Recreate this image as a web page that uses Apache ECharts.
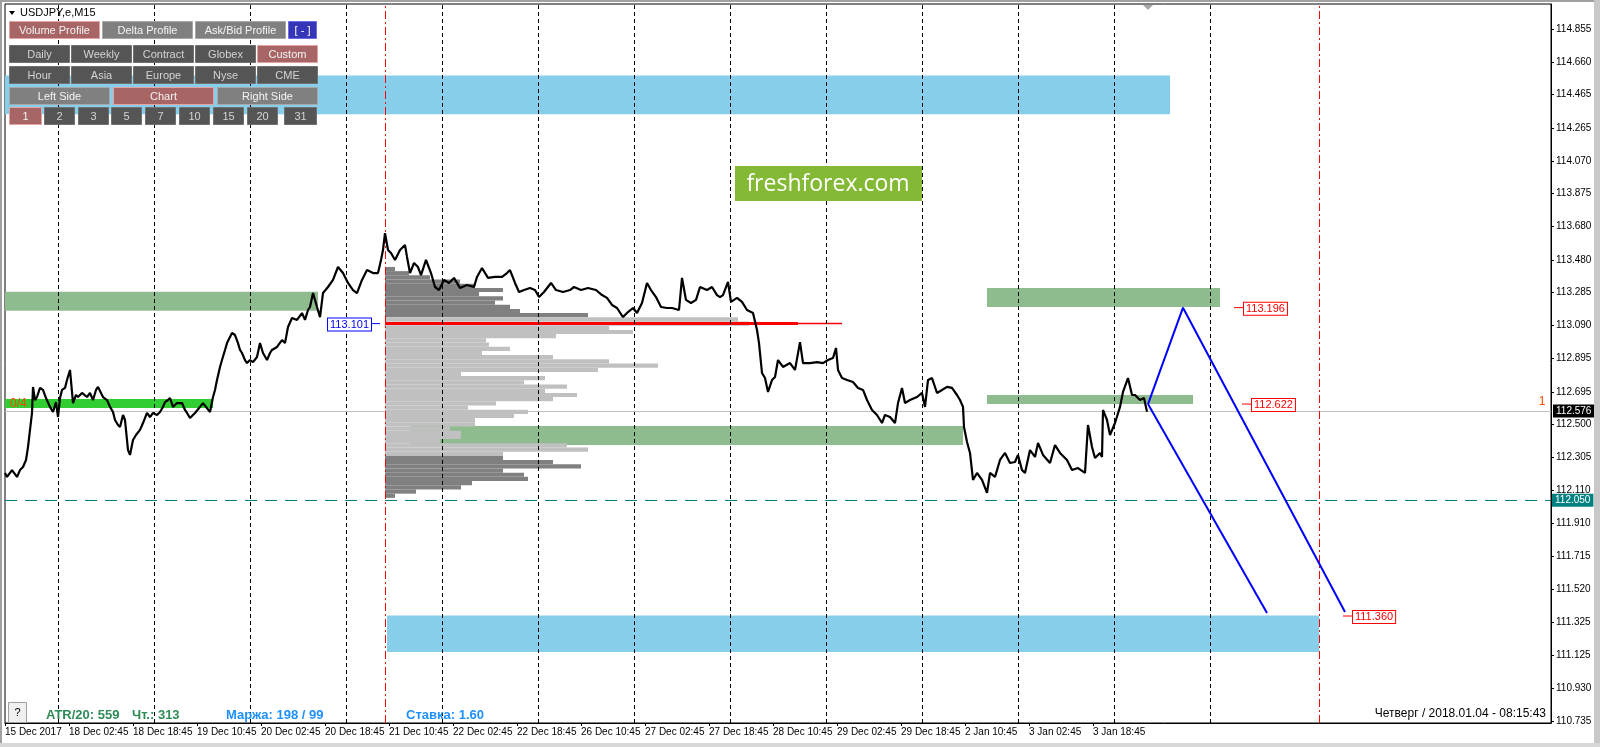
<!DOCTYPE html>
<html><head><meta charset="utf-8">
<script src="https://cdn.jsdelivr.net/npm/echarts@6/dist/echarts.min.js"></script>
<style>html,body{margin:0;padding:0;background:#fff}#c{width:1600px;height:747px}</style>
</head><body><div id="c"></div>
<script>
// ---------- DATA ----------
const xTickBars = [0,64,128,192,256,320,384,448,512,576,640,704,768,832,896,960,1024,1088];
const xTickLabels = ['15 Dec 2017','18 Dec 02:45','18 Dec 18:45','19 Dec 10:45','20 Dec 02:45','20 Dec 18:45','21 Dec 10:45','22 Dec 02:45','22 Dec 18:45','26 Dec 10:45','27 Dec 02:45','27 Dec 18:45','28 Dec 10:45','29 Dec 02:45','29 Dec 18:45','2 Jan 10:45','3 Jan 02:45','3 Jan 18:45'];
const yTickValues = [114.855,114.660,114.465,114.265,114.070,113.875,113.680,113.480,113.285,113.090,112.895,112.695,112.500,112.305,112.110,111.910,111.715,111.520,111.325,111.125,110.930,110.735];
const separatorBars = [53,149,245,341,437,533,629,725,821,917,1013,1109,1205];
const rangeBars = [380,1314];

const priceData = [[0,112.212],[2,112.188],[7,112.229],[12,112.188],[15,112.229],[18,112.247],[21,112.289],[23,112.366],[25,112.468],[27,112.569],[28,112.724],[30,112.646],[32,112.664],[35,112.718],[38,112.706],[41,112.658],[45,112.605],[48,112.575],[51,112.634],[53,112.545],[55,112.658],[57,112.706],[60,112.718],[62,112.765],[65,112.825],[68,112.628],[71,112.676],[73,112.664],[77,112.688],[82,112.664],[85,112.688],[88,112.646],[91,112.706],[93,112.724],[96,112.688],[98,112.664],[102,112.646],[105,112.605],[108,112.575],[110,112.527],[113,112.497],[115,112.485],[118,112.557],[120,112.527],[122,112.408],[123,112.348],[125,112.319],[128,112.408],[131,112.438],[135,112.468],[138,112.509],[142,112.569],[145,112.545],[148,112.569],[152,112.557],[155,112.575],[158,112.605],[160,112.634],[163,112.646],[165,112.658],[168,112.605],[172,112.628],[177,112.628],[180,112.587],[182,112.569],[185,112.539],[187,112.539],[190,112.569],[192,112.575],[195,112.605],[198,112.628],[201,112.605],[205,112.575],[208,112.664],[210,112.706],[212,112.765],[215,112.843],[217,112.884],[220,112.944],[222,112.985],[225,113.021],[227,113.045],[230,113.033],[233,112.985],[235,112.944],[237,112.926],[240,112.884],[242,112.866],[245,112.884],[248,112.872],[252,112.902],[255,112.985],[258,112.926],[262,112.884],[265,112.926],[267,112.944],[272,112.962],[277,113.003],[280,112.985],[283,113.081],[287,113.134],[292,113.123],[297,113.164],[300,113.123],[303,113.182],[305,113.200],[308,113.283],[312,113.200],[315,113.140],[318,113.283],[323,113.319],[328,113.361],[333,113.438],[338,113.402],[343,113.343],[348,113.301],[352,113.283],[357,113.361],[362,113.420],[368,113.402],[373,113.402],[376,113.480],[378,113.539],[380,113.640],[383,113.539],[386,113.521],[390,113.480],[395,113.539],[400,113.569],[402,113.498],[405,113.402],[409,113.462],[413,113.438],[416,113.390],[421,113.480],[426,113.402],[430,113.319],[434,113.301],[439,113.361],[444,113.343],[449,113.373],[455,113.313],[462,113.331],[469,113.319],[472,113.379],[477,113.432],[483,113.373],[490,113.379],[497,113.379],[502,113.402],[505,113.420],[510,113.343],[514,113.289],[519,113.301],[525,113.313],[530,113.301],[534,113.259],[539,113.289],[546,113.343],[551,113.301],[558,113.289],[565,113.301],[569,113.319],[576,113.301],[583,113.313],[591,113.301],[597,113.271],[602,113.254],[607,113.212],[612,113.194],[618,113.140],[623,113.170],[628,113.194],[632,113.164],[637,113.224],[642,113.343],[646,113.301],[651,113.259],[656,113.200],[662,113.194],[667,113.194],[674,113.182],[677,113.373],[681,113.242],[686,113.224],[691,113.242],[695,113.319],[702,113.301],[707,113.319],[712,113.271],[715,113.259],[718,113.271],[723,113.349],[726,113.230],[732,113.254],[737,113.230],[742,113.182],[748,113.164],[752,113.063],[754,112.985],[757,112.807],[760,112.777],[763,112.694],[767,112.765],[770,112.783],[773,112.884],[778,112.843],[785,112.866],[790,112.825],[795,112.991],[798,112.866],[805,112.866],[812,112.872],[818,112.866],[823,112.884],[828,112.896],[831,112.956],[833,112.825],[837,112.777],[842,112.765],[848,112.753],[853,112.718],[858,112.706],[862,112.646],[867,112.587],[872,112.557],[877,112.509],[880,112.557],[885,112.545],[890,112.509],[893,112.628],[897,112.718],[900,112.628],[905,112.646],[912,112.664],[917,112.688],[920,112.605],[923,112.765],[927,112.777],[932,112.688],[937,112.706],[942,112.724],[947,112.718],[952,112.676],[955,112.646],[958,112.605],[959,112.485],[962,112.396],[965,112.331],[968,112.170],[972,112.212],[977,112.170],[982,112.093],[985,112.212],[990,112.188],[995,112.289],[1000,112.331],[1005,112.271],[1010,112.277],[1013,112.319],[1017,112.229],[1020,112.212],[1025,112.348],[1030,112.307],[1033,112.390],[1038,112.319],[1045,112.271],[1050,112.378],[1055,112.331],[1062,112.289],[1067,112.229],[1073,112.241],[1080,112.212],[1083,112.497],[1087,112.366],[1090,112.301],[1095,112.331],[1097,112.307],[1098,112.587],[1102,112.527],[1105,112.438],[1110,112.509],[1115,112.605],[1118,112.694],[1123,112.777],[1127,112.676],[1130,112.676],[1135,112.646],[1139,112.658],[1142,112.576]];

const profileLevels = [113.426,113.401,113.376,113.351,113.326,113.301,113.276,113.251,113.226,113.201,113.176,113.151,113.126,113.101,113.076,113.051,113.026,113.001,112.976,112.951,112.926,112.901,112.876,112.851,112.826,112.801,112.776,112.751,112.726,112.701,112.676,112.651,112.626,112.601,112.576,112.551,112.526,112.501,112.476,112.451,112.426,112.401,112.376,112.351,112.326,112.301,112.276,112.251,112.226,112.201,112.176,112.151,112.126,112.101,112.076];
const profileLengths = [10,24,45,75,90,118,94,118,110,125,135,203,353,364,224,248,171,101,104,125,97,168,224,273,213,76,160,139,182,160,192,168,111,83,143,129,90,90,65,76,76,55,182,203,118,118,168,196,118,139,143,87,76,31,10];
const profileDark = [1,1,1,1,1,1,1,1,1,1,1,1,0,0,0,0,0,0,0,0,0,0,0,0,0,0,0,0,0,0,0,0,0,0,0,0,0,0,0,0,0,0,0,0,0,1,1,1,1,1,1,1,1,1,1];
const profileStartBar = 380;
const pocPrice = 113.101;
const pocEnds = [793, 837];

const bandStart  = [0, 0, 405, 982, 982, 0, 382];
const bandEnd    = [313, 208, 958, 1215, 1188, 1165, 1314];
const bandTop    = [113.291, 112.652, 112.491, 113.313, 112.676, 114.578, 111.363];
const bandBottom = [113.178, 112.598, 112.378, 113.200, 112.622, 114.347, 111.146];
const bandKind   = ['zone','level','zone','zone','zone','target','target'];
const bandTexts  = ['', '0/4', '', '', '', '', ''];

const zigzagLong  = [[1143,112.622],[1178,113.196],[1340,111.384]];
const zigzagShort = [[1143,112.622],[1262,111.378]];
const priceLabelBars = [1229,1237,1338];
const priceLabelValues = [113.196,112.622,111.360];
const currentPrice = 112.576;
const dashedLevel = 112.050;
const infoTexts = ['ATR/20: 559','Чт.: 313','Маржа: 198 / 99','Ставка: 1.60'];
const clockText = 'Четверг / 2018.01.04 - 08:15:43';

// ---------- STYLES / LAYOUT ----------
const FONT = '"Liberation Sans", Arial, sans-serif';
const bandColors = {zone:'#8fbc8f', level:'#32cd32', target:'#87ceeb'};

const buttonRows = [
  {y:21, items:[['Volume Profile',9,90,'red'],['Delta Profile',102,90,'gray'],['Ask/Bid Profile',195,90,'gray'],['[ - ]',288,28,'blue']]},
  {y:45, items:[['Daily',9,60,'dark'],['Weekly',71,60,'dark'],['Contract',133,60,'dark'],['Globex',195,60,'dark'],['Custom',257,60,'red']]},
  {y:66, items:[['Hour',9,60,'dark'],['Asia',71,60,'dark'],['Europe',133,60,'dark'],['Nyse',195,60,'dark'],['CME',257,60,'dark']]},
  {y:87, items:[['Left Side',9,100,'gray'],['Chart',113,100,'red'],['Right Side',217,100,'gray']]},
  {y:107,items:[['1',9,32,'red'],['2',44,30,'dark'],['3',78,30,'dark'],['5',111,30,'dark'],['7',145,30,'dark'],['10',179,30,'dark'],['15',213,30,'dark'],['20',247,30,'dark'],['31',284,32,'dark']]}
];
const btnStyles = {
  red:{fill:'#a86565',stroke:'#e4a2a2',text:'#f4f4f4'},
  gray:{fill:'#808080',stroke:'#a8a8a8',text:'#f4f4f4'},
  dark:{fill:'#555555',stroke:'#707070',text:'#d4d4d4'},
  blue:{fill:'#3535b8',stroke:'#6c6ce4',text:'#ffffff'}
};

const graphics = [];
graphics.push({type:'rect', z:100, shape:{x:0,y:0,width:1600,height:2}, style:{fill:'#a0a0a0'}});
graphics.push({type:'rect', z:100, shape:{x:0,y:0,width:2,height:747}, style:{fill:'#a0a0a0'}});
graphics.push({type:'rect', z:100, shape:{x:1594,y:0,width:6,height:747}, style:{fill:'#c8c8c8'}});
graphics.push({type:'rect', z:100, shape:{x:0,y:743,width:1600,height:4}, style:{fill:'#d8d8d8'}});
graphics.push({type:'polygon', z:100, shape:{points:[[9,11],[15,11],[12,15]]}, style:{fill:'#000'}});
graphics.push({type:'text', z:100, x:20, y:13, style:{text:'USDJPY,e,M15', fill:'#000', font:'11px '+FONT, align:'left', textAlign:'left', verticalAlign:'middle', textVerticalAlign:'middle'}});
graphics.push({type:'polygon', z:100, shape:{points:[[1143,5],[1153,5],[1148,10]]}, style:{fill:'#a8a8a8'}});
buttonRows.forEach(row => row.items.forEach(([label,x,w,kind]) => {
  const s = btnStyles[kind];
  graphics.push({type:'rect', z:100, shape:{x:x+0.5,y:row.y+0.5,width:w,height:17}, style:{fill:s.fill, stroke:s.stroke, lineWidth:1}});
  graphics.push({type:'text', z:101, x:x+w/2+0.5, y:row.y+9.5, style:{text:label, fill:s.text, font:'11px '+FONT, align:'center', textAlign:'center', verticalAlign:'middle', textVerticalAlign:'middle'}});
}));
graphics.push({type:'rect', z:100, shape:{x:735,y:166,width:187,height:35}, style:{fill:'#84b936'}});
graphics.push({type:'text', z:101, x:828, y:184, style:{text:'freshforex.com', fill:'#ffffff', font:'23px "Open Sans", sans-serif', align:'center', textAlign:'center', verticalAlign:'middle', textVerticalAlign:'middle'}});
graphics.push({type:'rect', z:100, shape:{x:8.5,y:702.5,width:18,height:20}, style:{fill:'#f0f0f0', stroke:'#a0a0a0', lineWidth:1}});
graphics.push({type:'text', z:101, x:17.5, y:713, style:{text:'?', fill:'#000', font:'11px '+FONT, align:'center', textAlign:'center', verticalAlign:'middle', textVerticalAlign:'middle'}});
const infoX = [46, 132, 226, 406];
const infoColor = ['#2e8b57','#2e8b57','#1e90ff','#1e90ff'];
infoTexts.forEach((t,i) => graphics.push({type:'text', z:100, x:infoX[i], y:715, style:{text:t, fill:infoColor[i], font:'bold 13px '+FONT, align:'left', textAlign:'left', verticalAlign:'middle', textVerticalAlign:'middle'}}));
graphics.push({type:'text', z:100, x:1546, y:714, style:{text:clockText, fill:'#000', font:'12px '+FONT, align:'right', textAlign:'right', verticalAlign:'middle', textVerticalAlign:'middle'}});
graphics.push({type:'text', z:100, x:1542, y:402, style:{text:'1', fill:'#ff4500', font:'12px '+FONT, align:'center', textAlign:'center', verticalAlign:'middle', textVerticalAlign:'middle'}});

const bandData = bandStart.map((s,i) => [
  {xAxis:s, yAxis:bandTop[i], itemStyle:{color:bandColors[bandKind[i]], opacity:1, borderWidth:0},
   label:{show: bandTexts[i] !== '', position:'insideLeft', distance:5, formatter:bandTexts[i], color:'#ff4500', fontSize:12, fontFamily:FONT}},
  {xAxis:bandEnd[i], yAxis:bandBottom[i]}
]);

const chart = echarts.init(document.getElementById('c'));
chart.setOption({
  animation:false,
  backgroundColor:'#ffffff',
  grid:{left:5, right:49, top:4, bottom:24, show:true, borderColor:'#000', borderWidth:1, backgroundColor:'transparent'},
  xAxis:{type:'value', min:0, max:1546, position:'bottom',
    axisLine:{show:true, onZero:false, lineStyle:{color:'#000', width:1}},
    axisTick:{show:true, customValues:xTickBars, length:3, lineStyle:{color:'#000'}},
    axisLabel:{customValues:xTickBars, formatter:v => xTickLabels[xTickBars.indexOf(v)], align:'left', margin:4, color:'#000', fontSize:10, fontFamily:FONT},
    splitLine:{show:false}},
  yAxis:{type:'value', position:'right', min:110.723, max:115.004,
    axisLine:{show:true, onZero:false, lineStyle:{color:'#000', width:1}},
    axisTick:{show:true, customValues:yTickValues, length:3, lineStyle:{color:'#000'}},
    axisLabel:{customValues:yTickValues, formatter:v => v.toFixed(3), margin:5, color:'#000', fontSize:10, fontFamily:FONT},
    splitLine:{show:false}},
  graphic:graphics,
  series:[
    {name:'bands', type:'line', data:[], z:1, silent:true, markArea:{silent:true, data:bandData}},
    {name:'profile', type:'custom', z:2, silent:true,
      data:profileLevels.map((p,i) => [profileLengths[i], p, profileDark[i]]),
      renderItem:(params, api) => {
        const len = api.value(0), lvl = api.value(1), dark = api.value(2);
        const a = api.coord([profileStartBar, lvl + 0.0125]);
        const b = api.coord([profileStartBar + len, lvl - 0.0125]);
        return {type:'rect', shape:{x:a[0], y:a[1], width:b[0]-a[0], height:b[1]-a[1]}, style:{fill: dark ? '#808080' : '#c0c0c0'}};
      }},
    {name:'separators', type:'line', data:[], z:3, silent:true,
      markLine:{silent:true, symbol:['none','none'], label:{show:false}, lineStyle:{color:'#000', type:[4,3], width:1},
        data:separatorBars.map(b => ({xAxis:b}))}},
    {name:'levels', type:'line', data:[], z:3, silent:true,
      markLine:{silent:true, symbol:['none','none'], data:[
        {yAxis:currentPrice, lineStyle:{color:'#c0c0c0', width:1, type:'solid'},
          label:{show:true, position:'end', distance:2, formatter:currentPrice.toFixed(3), color:'#fff', backgroundColor:'#000', padding:[2,3,1,3], fontSize:10, fontFamily:FONT}},
        {yAxis:dashedLevel, lineStyle:{color:'#008080', width:1, type:[12,8]},
          label:{show:true, position:'end', distance:1, formatter:dashedLevel.toFixed(3), color:'#fff', backgroundColor:'#008080', padding:[2,3,1,3], fontSize:10, fontFamily:FONT}}
      ]}},
    {name:'range', type:'line', data:[], z:4, silent:true,
      markLine:{silent:true, symbol:['none','none'], label:{show:false}, lineStyle:{color:'#ff0000', type:[8,3,2,3], width:1},
        data:rangeBars.map(b => ({xAxis:b}))}},
    {name:'pocThick', type:'line', z:4, symbol:'none', silent:true, data:[[profileStartBar,pocPrice],[pocEnds[0],pocPrice]], lineStyle:{color:'#ff0000', width:3}},
    {name:'pocThin', type:'line', z:4, symbol:'none', silent:true, data:[[profileStartBar,pocPrice],[pocEnds[1],pocPrice]], lineStyle:{color:'#ff0000', width:1.5}},
    {name:'price', type:'line', z:5, symbol:'none', silent:true, data:priceData, lineStyle:{color:'#000', width:2.2}},
    {name:'zigzagLong', type:'line', z:5, symbol:'none', silent:true, data:zigzagLong, lineStyle:{color:'#0000ff', width:2}},
    {name:'zigzagShort', type:'line', z:5, symbol:'none', silent:true, data:zigzagShort, lineStyle:{color:'#0000ff', width:2}},
    {name:'priceLabels', type:'custom', z:6, silent:true,
      data:priceLabelBars.map((b,i) => [b, priceLabelValues[i]]),
      renderItem:(params, api) => {
        const p = api.coord([api.value(0), api.value(1)]);
        return {type:'group', children:[
          {type:'line', shape:{x1:p[0], y1:p[1], x2:p[0]+10, y2:p[1]}, style:{stroke:'#ff0000', lineWidth:1}},
          {type:'text', style:{text:api.value(1).toFixed(3), x:p[0]+10, y:p[1]+1, fill:'#ff0000', font:'11px '+FONT, align:'left', verticalAlign:'middle', backgroundColor:'#ffffff', borderColor:'#ff0000', borderWidth:1, padding:[1,2,0,2]}}
        ]};
      }},
    {name:'pocLabel', type:'custom', z:6, silent:true,
      data:[[profileStartBar-5, pocPrice]],
      renderItem:(params, api) => {
        const p = api.coord([api.value(0), api.value(1)]);
        return {type:'group', children:[
          {type:'line', shape:{x1:p[0]-9, y1:p[1], x2:p[0], y2:p[1]}, style:{stroke:'#0000ff', lineWidth:1}},
          {type:'text', style:{text:api.value(1).toFixed(3), x:p[0]-9, y:p[1]+1, fill:'#0000ff', font:'11px '+FONT, align:'right', verticalAlign:'middle', backgroundColor:'#ffffff', borderColor:'#0000ff', borderWidth:1, padding:[1,2,0,2]}}
        ]};
      }}
  ]
});
</script></body></html>
